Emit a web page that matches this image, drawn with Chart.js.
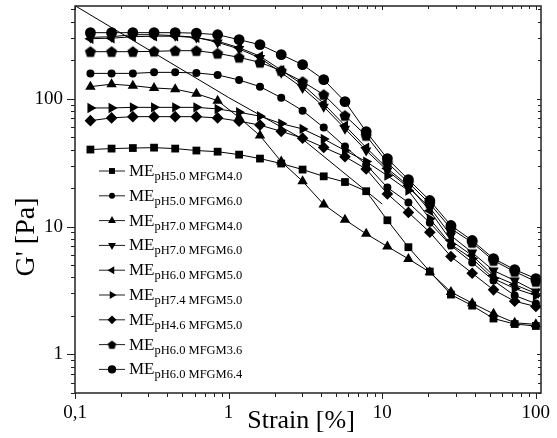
<!DOCTYPE html>
<html>
<head>
<meta charset="utf-8">
<script src="https://cdn.jsdelivr.net/npm/chart.js@4.4.1/dist/chart.umd.min.js"></script>
<style>
  html, body { margin: 0; padding: 0; background: #fff; }
  #wrap { width: 557px; height: 438px; }
</style>
</head>
<body>
<div id="wrap"><canvas id="chart" width="557" height="438"></canvas></div>
<script>
// strain sweep (%), same points for every sample
const strain = [0.126, 0.173, 0.238, 0.327, 0.449, 0.617, 0.848, 1.17, 1.60, 2.20, 3.03,
  4.16, 5.72, 7.86, 10.8, 14.8, 20.4, 28.0, 38.5, 53.0, 72.8, 100];

// G' [Pa] per sample
const gPH50_MFGM40 = [40.0, 40.7, 41.1, 41.4, 40.7, 39.3, 38.5, 36.5, 34.0, 31.1, 27.9,
  24.7, 22.3, 18.9, 11.2, 6.9, 4.45, 2.94, 2.41, 1.91, 1.73, 1.67];
const gPH50_MFGM60 = [157.6, 157.6, 157.6, 160.5, 160.5, 158.8, 153.2, 140.0, 124.1, 101.8, 80.6,
  59.4, 42.2, 30.5, 20.2, 15.4, 10.7, 7.11, 5.23, 3.79, 2.89, 2.50];
const gPH70_MFGM40 = [124.1, 129.8, 126.3, 121.2, 118.7, 109.4, 96.5, 71.1, 51.4, 32.2, 22.6,
  14.9, 11.3, 8.77, 6.98, 5.59, 4.40, 3.08, 2.52, 2.08, 1.77, 1.72];
const gPH70_MFGM60 = [301.2, 305.0, 316.2, 316.2, 310.6, 301.2, 275.3, 244.5, 208.0, 159.7, 121.2,
  86.6, 58.3, 39.3, 27.4, 20.2, 14.1, 8.51, 6.26, 4.53, 3.79, 3.11];
const gPH60_MFGM50 = [294.2, 296.9, 305.0, 307.8, 307.8, 299.6, 281.3, 250.3, 214.8, 167.0, 128.7,
  91.4, 61.5, 41.4, 28.4, 20.9, 13.3, 7.78, 5.93, 4.14, 3.52, 3.00];
const gPH74_MFGM50 = [84.6, 84.6, 85.5, 85.5, 85.5, 85.5, 83.1, 78.2, 73.0, 63.8, 58.0,
  48.4, 39.3, 32.2, 25.0, 19.1, 11.5, 7.24, 5.62, 3.92, 3.28, 2.89];
const gPH46_MFGM50 = [67.3, 70.7, 72.3, 72.3, 72.3, 72.3, 70.7, 66.7, 62.1, 55.5, 49.1,
  41.6, 35.2, 28.2, 18.0, 12.9, 9.03, 5.83, 4.32, 3.20, 2.61, 2.37];
const gPH60_MFGM36 = [232.9, 232.9, 232.9, 234.2, 237.1, 237.1, 225.9, 210.2, 192.1, 165.5, 135.8,
  107.5, 73.7, 51.4, 31.6, 22.1, 15.1, 9.65, 7.50, 5.42, 4.45, 3.72];
const gPH60_MFGM64 = [327.9, 327.9, 327.9, 327.9, 327.9, 324.9, 316.2, 289.0, 264.2, 220.7, 184.4,
  140.7, 94.8, 55.2, 34.0, 23.3, 16.0, 10.2, 7.78, 5.62, 4.61, 3.92];

// straight guide line
const guideStrain = [0.1, 1, 3, 10];
const guideG = [533, 102, 48.7, 15];

const legendSubs = [
  "pH5.0 MFGM4.0", "pH5.0 MFGM6.0", "pH7.0 MFGM4.0", "pH7.0 MFGM6.0", "pH6.0 MFGM5.0",
  "pH7.4 MFGM5.0", "pH4.6 MFGM5.0", "pH6.0 MFGM3.6", "pH6.0 MFGM6.4"
];
const xTicks = [0.1, 1, 10, 100];
const xTickText = ["0,1", "1", "10", "100"];
const yTicks = [1, 10, 100];
const yTickText = ["1", "10", "100"];

const SERIF = '"Liberation Serif", "Times New Roman", serif';

// filled pentagon marker (Chart.js has no built-in one)
function pentagon(r) {
  const c = document.createElement("canvas");
  const s = Math.ceil(r * 2 + 2);
  c.width = c.height = s;
  const g = c.getContext("2d");
  g.beginPath();
  for (let i = 0; i < 5; i++) {
    const a = -Math.PI / 2 + i * 2 * Math.PI / 5;
    const px = s / 2 + r * Math.cos(a), py = s / 2 + r * 1.02 * Math.sin(a) + 0.5;
    i ? g.lineTo(px, py) : g.moveTo(px, py);
  }
  g.closePath();
  g.fillStyle = "#000";
  g.fill();
  return c;
}

const series = [
  { data: gPH50_MFGM40, style: "rect", rot: 0, r: 5.5 },
  { data: gPH50_MFGM60, style: "circle", rot: 0, r: 4 },
  { data: gPH70_MFGM40, style: "triangle", rot: 0, r: 6 },
  { data: gPH70_MFGM60, style: "triangle", rot: 180, r: 6 },
  { data: gPH60_MFGM50, style: "triangle", rot: 270, r: 6 },
  { data: gPH74_MFGM50, style: "triangle", rot: 90, r: 6 },
  { data: gPH46_MFGM50, style: "rectRot", rot: 0, r: 5.8 },
  { data: gPH60_MFGM36, style: pentagon(5.8), legendStyle: pentagon(4.4), rot: 0, r: 5.8 },
  { data: gPH60_MFGM64, style: "circle", rot: 0, r: 5.4 }
];

const datasets = series.map((s, i) => ({
  label: legendSubs[i],
  data: strain.map((x, k) => ({ x, y: s.data[k] })),
  borderColor: "#000",
  backgroundColor: "#000",
  borderWidth: 1,
  pointStyle: s.style,
  rotation: s.rot,
  pointRadius: s.r,
  pointBorderWidth: 0,
  tension: 0
}));

datasets.push({
  label: "guide",
  data: guideStrain.map((x, k) => ({ x, y: guideG[k] })),
  borderColor: "#000",
  borderWidth: 1,
  pointRadius: 0,
  tension: 0
});

function minorValues(lo, hi) {
  const out = [];
  for (let d = -2; d <= 3; d++) {
    for (let k = 1; k <= 9; k++) {
      const v = k * Math.pow(10, d);
      if (v >= lo * 0.999 && v <= hi * 1.001) out.push({ v, major: k === 1 });
    }
  }
  return out;
}

// frame, tick marks, axis titles and legend
const decor = {
  id: "decor",
  afterDraw(chart) {
    const { ctx, chartArea: a, scales } = chart;
    const xs = scales.x, ys = scales.y;
    ctx.save();
    ctx.strokeStyle = "#222";
    ctx.lineWidth = 1.5;
    ctx.strokeRect(a.left, a.top, a.right - a.left, a.bottom - a.top);

    ctx.lineWidth = 1;
    ctx.beginPath();
    minorValues(xs.min, xs.max).forEach(({ v, major }) => {
      const px = Math.round(xs.getPixelForValue(v)) + 0.5;
      ctx.moveTo(px, a.bottom);
      ctx.lineTo(px, a.bottom + (major ? 6 : 4));
      ctx.moveTo(px, a.top);
      ctx.lineTo(px, a.top + (major ? 4 : 3));
    });
    minorValues(ys.min, ys.max).forEach(({ v, major }) => {
      const py = Math.round(ys.getPixelForValue(v)) + 0.5;
      ctx.moveTo(a.left, py);
      ctx.lineTo(a.left - (major ? 8 : 4), py);
      ctx.moveTo(a.right, py);
      ctx.lineTo(a.right - (major ? 4 : 3), py);
    });
    ctx.stroke();

    // axis titles
    ctx.fillStyle = "#000";
    ctx.font = "26px " + SERIF;
    ctx.textAlign = "center";
    ctx.textBaseline = "middle";
    ctx.fillText("Strain [%]", 301, 421);
    ctx.save();
    ctx.translate(27, 237);
    ctx.rotate(-Math.PI / 2);
    ctx.font = "28px " + SERIF;
    ctx.fillText("G' [Pa]", 0, 0);
    ctx.restore();

    // legend
    ctx.textAlign = "left";
    ctx.textBaseline = "alphabetic";
    series.forEach((s, i) => {
      const y = 171 + i * 24.8;
      ctx.beginPath();
      ctx.moveTo(99, y);
      ctx.lineTo(125, y);
      ctx.stroke();
      ctx.fillStyle = "#000";
      Chart.helpers.drawPoint(ctx, {
        pointStyle: s.legendStyle || s.style,
        rotation: s.rot,
        radius: s.r * 0.76,
        borderWidth: 0
      }, 112, y);
      ctx.font = "17px " + SERIF;
      ctx.fillText("ME", 129, y + 5);
      const w = ctx.measureText("ME").width;
      ctx.font = "12.5px " + SERIF;
      ctx.fillText(legendSubs[i], 129 + w, y + 9);
    });
    ctx.restore();
  }
};

new Chart(document.getElementById("chart"), {
  type: "line",
  data: { datasets },
  plugins: [decor],
  options: {
    responsive: false,
    animation: false,
    layout: { padding: { left: 0, top: 5, right: 16, bottom: 0 } },
    plugins: { legend: { display: false }, tooltip: { enabled: false } },
    scales: {
      x: {
        type: "logarithmic",
        min: 0.1,
        max: 108,
        grid: { display: false, drawTicks: false },
        border: { display: false },
        afterBuildTicks: (s) => { s.ticks = xTicks.map((v) => ({ value: v })); },
        afterFit: (s) => {
          s.height = 45;
          s.paddingLeft = 0;
          s.paddingRight = 0;
        },
        ticks: {
          autoSkip: false,
          maxRotation: 0,
          padding: 9,
          color: "#000",
          font: { family: SERIF, size: 19 },
          callback: (v) => xTickText[xTicks.indexOf(v)] ?? ""
        }
      },
      y: {
        type: "logarithmic",
        min: 0.5,
        max: 530,
        grid: { display: false, drawTicks: false },
        border: { display: false },
        afterBuildTicks: (s) => { s.ticks = yTicks.map((v) => ({ value: v })); },
        afterFit: (s) => {
          s.width = 75;
          s.paddingTop = 0;
          s.paddingBottom = 0;
        },
        ticks: {
          autoSkip: false,
          padding: 12,
          color: "#000",
          font: { family: SERIF, size: 19 },
          callback: (v) => yTickText[yTicks.indexOf(v)] ?? ""
        }
      }
    }
  }
});
</script>
</body>
</html>
